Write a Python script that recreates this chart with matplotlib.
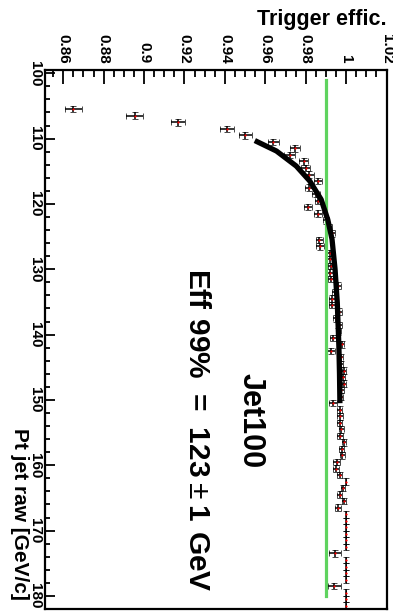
import matplotlib
matplotlib.use("Agg")
import matplotlib.pyplot as plt
from matplotlib.ticker import FixedLocator, MultipleLocator

plt.rcParams['font.family'] = ['Liberation Sans', 'DejaVu Sans']
plt.rcParams['mathtext.fontset'] = 'custom'
plt.rcParams['mathtext.rm'] = 'Liberation Sans'
plt.rcParams['mathtext.bf'] = 'Liberation Sans:bold'

# ---- data (pT bin centres, efficiency, efficiency error) ----
pt_bins = [105.5, 106.5, 107.5, 108.5, 109.5, 110.5, 111.5, 112.5, 113.5, 114.5,
           115.5, 116.5, 117.5, 118.5, 119.5, 120.5, 121.5, 122.5, 123.5, 124.5,
           125.5, 126.5, 127.5, 128.5, 129.5, 130.5, 131.5, 132.5, 133.5, 134.5,
           135.5, 136.5, 137.5, 138.5, 139.5, 140.5, 141.5, 142.5, 143.5, 144.5,
           145.5, 146.5, 147.5, 148.5, 149.5, 150.5, 151.5, 152.5, 153.5, 154.5,
           155.5, 156.5, 157.5, 158.5, 159.5, 160.5, 161.5, 162.5, 163.5, 164.5,
           165.5, 166.5, 167.5, 168.5, 169.5, 170.5, 171.5, 172.5, 173.5, 174.5,
           175.5, 176.5, 177.5, 178.5, 179.5, 180.5, 181.5]
efficiency = [0.8650, 0.8953, 0.9168, 0.9410, 0.9501, 0.9640, 0.9748, 0.9720, 0.9789, 0.9799,
              0.9818, 0.9862, 0.9815, 0.9851, 0.9862, 0.9810, 0.9860, 0.9900, 0.9915, 0.9928,
              0.9868, 0.9870, 0.9918, 0.9920, 0.9925, 0.9918, 0.9925, 0.9960, 0.9945, 0.9930,
              0.9928, 0.9966, 0.9950, 0.9966, 0.9960, 0.9933, 0.9978, 0.9925, 0.9975, 0.9970,
              0.9990, 0.9984, 0.9990, 0.9976, 0.9972, 0.9935, 0.9967, 0.9970, 0.9967, 0.9975,
              0.9970, 0.9990, 0.9978, 0.9980, 0.9953, 0.9950, 0.9967, 1.0000, 0.9985, 0.9967,
              0.9990, 0.9960, 1.0000, 1.0000, 1.0000, 1.0000, 1.0000, 1.0000, 0.9945, 1.0000,
              1.0000, 1.0000, 1.0000, 0.9942, 1.0000, 1.0000, 1.0000]
eff_error = [0.0041, 0.0040, 0.0037, 0.0034, 0.0032, 0.0028, 0.0025, 0.0026, 0.0023, 0.0022,
             0.0021, 0.0019, 0.0021, 0.0019, 0.0018, 0.0020, 0.0018, 0.0016, 0.0015, 0.0015,
             0.0018, 0.0018, 0.0016, 0.0016, 0.0015, 0.0016, 0.0015, 0.0012, 0.0014, 0.0015,
             0.0015, 0.0012, 0.0013, 0.0012, 0.0012, 0.0015, 0.0011, 0.0020, 0.0011, 0.0012,
             0.0010, 0.0010, 0.0010, 0.0011, 0.0012, 0.0018, 0.0013, 0.0013, 0.0013, 0.0012,
             0.0013, 0.0010, 0.0012, 0.0012, 0.0016, 0.0016, 0.0014, 0.0000, 0.0011, 0.0014,
             0.0010, 0.0016, 0.0000, 0.0000, 0.0000, 0.0000, 0.0000, 0.0000, 0.0030, 0.0000,
             0.0000, 0.0000, 0.0000, 0.0030, 0.0000, 0.0000, 0.0000]
bin_half_width = 0.5

# fit curve
fit_pt = [110.3, 111.9, 114.2, 116.5, 119.3, 122.4, 125.4, 130.0, 135.1, 141.8, 146.0, 150.5]
fit_eff = [0.9548, 0.9655, 0.9753, 0.9820, 0.9876, 0.9909, 0.9930, 0.9945, 0.9956, 0.9964,
           0.9967, 0.9969]

# 99% efficiency reference line
level_eff = 0.99
level_pt_range = [101, 180]

eff_ticks = [0.86, 0.88, 0.90, 0.92, 0.94, 0.96, 0.98, 1.00, 1.02]
eff_tick_labels = ['0.86', '0.88', '0.9', '0.92', '0.94', '0.96', '0.98', '1', '1.02']
pt_ticks = [100, 110, 120, 130, 140, 150, 160, 170, 180]
pt_tick_labels = ['100', '110', '120', '130', '140', '150', '160', '170', '180']

W, H = 393, 614
fig = plt.figure(figsize=(W / 100, H / 100), dpi=100)
ax = fig.add_axes([45 / W, 1 - 609 / H, (387 - 45) / W, (609 - 70) / H])

ax.errorbar(efficiency, pt_bins, xerr=eff_error, yerr=bin_half_width,
            fmt='o', ms=1.0, mfc='red', mec='red', mew=0.5, ecolor='black',
            elinewidth=1.1, capsize=2.4, capthick=1.1, zorder=2)
ax.plot([level_eff, level_eff], level_pt_range, color='#5fd35f', lw=2.3, zorder=3)
ax.plot(fit_eff, fit_pt, color='black', lw=3.8, solid_capstyle='butt',
        solid_joinstyle='round', zorder=4)

ax.set_xlim(0.851, 1.0202)
ax.set_ylim(182.0, 99.5)

ax.xaxis.set_major_locator(FixedLocator(eff_ticks))
ax.set_xticklabels(eff_tick_labels)
ax.xaxis.set_minor_locator(MultipleLocator(0.005))
ax.yaxis.set_major_locator(FixedLocator(pt_ticks))
ax.set_yticklabels(pt_tick_labels)
ax.yaxis.set_minor_locator(MultipleLocator(2))

ax.xaxis.tick_top()
ax.tick_params(axis='x', which='both', direction='in', top=True, bottom=False,
               labeltop=True, labelbottom=False, width=1.3)
ax.tick_params(axis='x', which='major', length=10, pad=4.5, labelsize=11, labelrotation=270)
ax.tick_params(axis='x', which='minor', length=5)
ax.tick_params(axis='y', which='both', direction='in', left=True, right=False, width=1.3)
ax.tick_params(axis='y', which='major', length=7.5, pad=2, labelsize=11, labelrotation=270)
ax.tick_params(axis='y', which='minor', length=3.8)
for lab in ax.get_xticklabels() + ax.get_yticklabels():
    lab.set_fontweight('bold')
for lab in ax.get_yticklabels():
    lab.set_va('center')
for sp in ax.spines.values():
    sp.set_linewidth(1.6)

ax.text(0.9527, 153.1, 'Jet100', rotation=270, ha='center', va='center',
        fontsize=22, fontweight='bold')
ax.text(0.9261, 154.6, r'$\mathbf{Eff\ 99\%\ =\ 123}\pm\mathbf{1\ GeV}$', rotation=270,
        ha='center', va='center', fontsize=21.5)

fig.text(387 / W, 1 - 20 / H, 'Trigger effic.', ha='right', va='center',
         fontsize=15.5, fontweight='bold')
fig.text(19 / W, 1 - 600 / H, 'Pt jet raw [GeV/c]', rotation=270, ha='center',
         va='bottom', fontsize=15, fontweight='bold')

fig.savefig('out.png', dpi=100)
